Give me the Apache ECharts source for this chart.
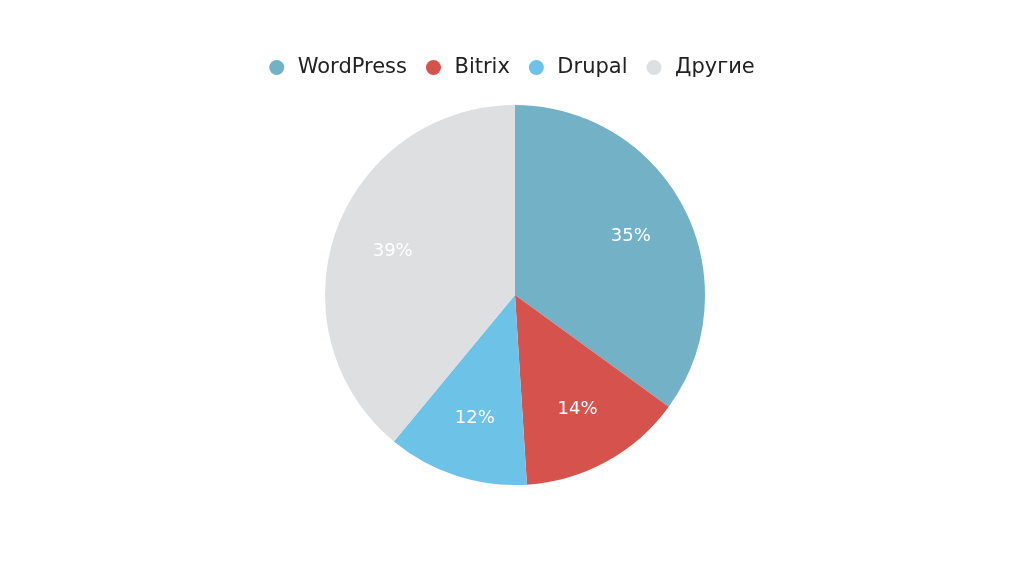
<!DOCTYPE html>
<html>
<head>
<meta charset="utf-8">
<script src="https://cdn.jsdelivr.net/npm/echarts@6/dist/echarts.min.js"></script>
<style>
  html, body { margin: 0; padding: 0; background: #fff; }
  #main { width: 1024px; height: 569px; }
</style>
</head>
<body>
<div id="main"></div>
<script>
var names = ['WordPress', 'Bitrix', 'Drupal', 'Другие'];
var values = [35, 14, 12, 39];
var colors = ['#73b1c7', '#d6534d', '#6dc2e8', '#dddfe1'];

var data = names.map(function (n, i) {
  return { name: n, value: values[i], itemStyle: { color: colors[i] } };
});

var myChart = echarts.init(document.getElementById('main'));

var option = {
  backgroundColor: '#fff',
  legend: {
    top: 52,
    left: 'center',
    icon: 'circle',
    itemWidth: 32,
    itemHeight: 15,
    itemGap: 19,
    textStyle: { fontFamily: 'DejaVu Sans', fontSize: 21, color: '#222' },
    data: names
  },
  series: [
    {
      type: 'pie',
      center: [515, 295],
      radius: [0, 190],
      startAngle: 90,
      clockwise: true,
      label: { show: false },
      labelLine: { show: false },
      emphasis: { disabled: true },
      data: data
    },
    {
      // transparent ring only to place labels at ~2/3 radius
      type: 'pie',
      center: [515, 295],
      radius: [64, 190],
      startAngle: 90,
      clockwise: true,
      silent: true,
      legendHoverLink: false,
      itemStyle: { color: 'rgba(0,0,0,0)' },
      label: {
        show: true,
        position: 'inside',
        formatter: '{c}%',
        color: '#fff',
        fontFamily: 'DejaVu Sans',
        fontSize: 18
      },
      labelLine: { show: false },
      emphasis: { disabled: true },
      data: names.map(function (n, i) { return { name: n + ' ', value: values[i] }; })
    }
  ]
};
myChart.setOption(option);
</script>
</body>
</html>
